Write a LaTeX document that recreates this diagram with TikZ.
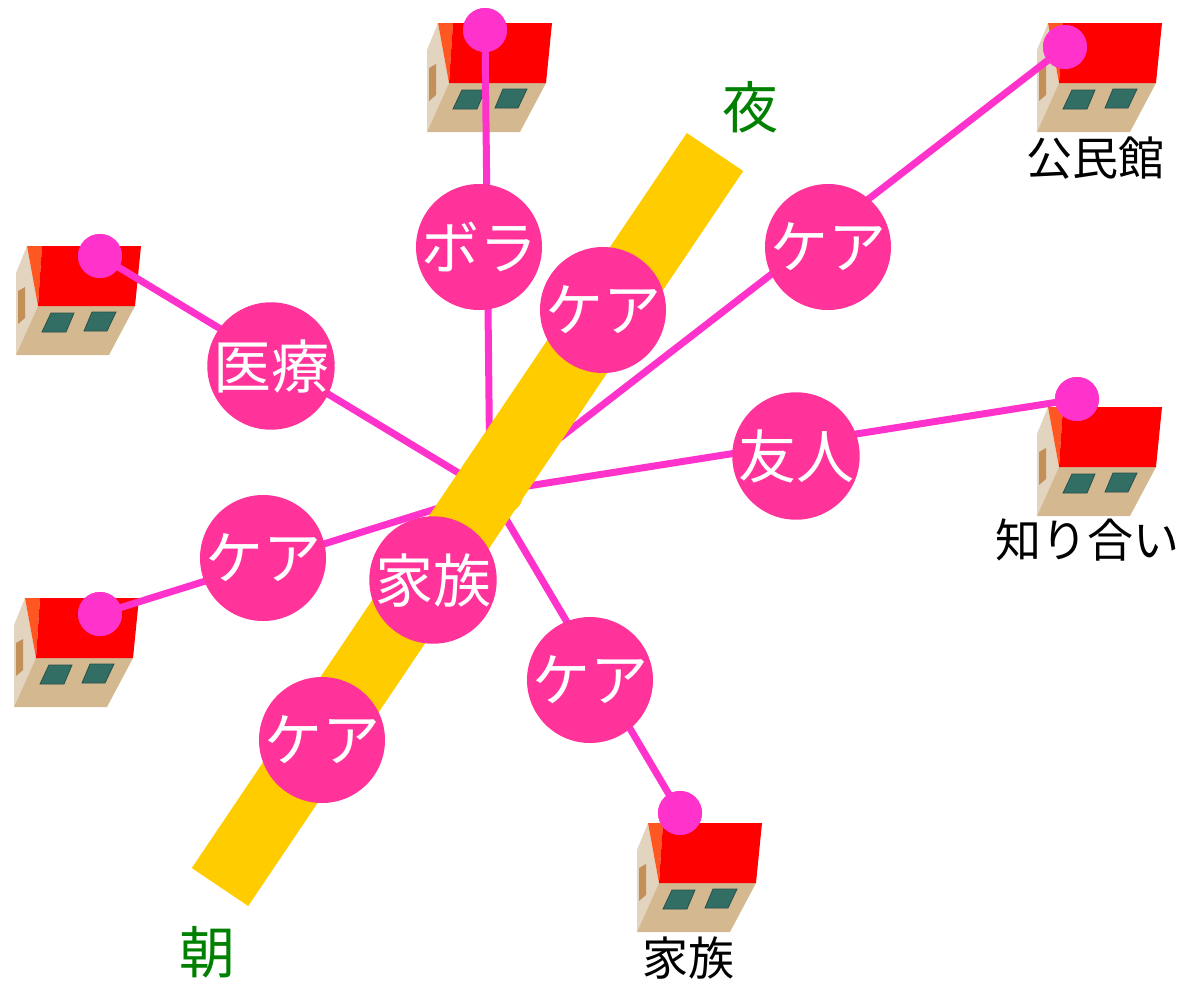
\documentclass[tikz,border=0pt]{standalone}
\usepackage{fontspec}
\newfontfamily\jpfont{Noto Sans CJK JP}
\definecolor{linkpink}{RGB}{255,51,204}
\definecolor{topicpink}{RGB}{255,51,153}
\definecolor{bandyellow}{RGB}{255,204,0}
\definecolor{timegreen}{RGB}{0,128,0}
\definecolor{roofred}{RGB}{255,0,0}
\definecolor{roofside}{RGB}{255,87,34}
\definecolor{wallfront}{RGB}{212,184,144}
\definecolor{wallside}{RGB}{226,212,190}
\definecolor{doorbrown}{RGB}{196,144,90}
\definecolor{windowteal}{RGB}{50,110,100}
\definecolor{windowedge}{RGB}{40,80,75}
\begin{document}
\begin{tikzpicture}[x=1pt,y=-1pt,
  link/.style={draw=linkpink, line width=7pt},
  topic/.style={circle, fill=topicpink, minimum size=126pt, inner sep=0pt,
    text=white, font=\jpfont\fontsize{58}{58}\selectfont},
  pin/.style={circle, fill=linkpink, minimum size=44pt, inner sep=0pt},
  place/.style={font=\jpfont\fontsize{46}{46}\selectfont, text=black, inner sep=0pt},
  timelabel/.style={font=\jpfont\fontsize{56}{56}\selectfont, text=timegreen, inner sep=0pt},
  house/.pic={
    \fill[wallside] (-26,27) -- (-15,0) -- (-4,60) -- (-26,109) -- cycle;
    \fill[wallfront] (-4,60) -- (93,60) -- (67,109) -- (-26,109) -- cycle;
    \fill[roofside] (-15,0) -- (0,0) -- (-4,60) -- cycle;
    \fill[roofred] (0,0) -- (99,0) -- (93,60) -- (-4,60) -- cycle;
    \fill[doorbrown] (-24,45) -- (-17,41) -- (-17,72) -- (-24,78) -- cycle;
    \filldraw[fill=windowteal, draw=windowedge, line width=0.8pt]
      (9,67) -- (32,67) -- (24,86) -- (0,86) -- cycle;
    \filldraw[fill=windowteal, draw=windowedge, line width=0.8pt]
      (50,66) -- (74,66) -- (65,85) -- (42,85) -- cycle;
  }]
\useasboundingbox (0,0) rectangle (1189,983);

% houses
\pic at (453,23) {house};
\pic at (1063,23) {house};
\pic at (42,246) {house};
\pic at (40,598) {house};
\pic at (1063,407) {house};
\pic at (663,823) {house};

% hub and pins
\coordinate (hub) at (490,492);
\node[pin] (pTop) at (485,30) {};
\node[pin] (pTR) at (1065,47) {};
\node[pin] (pL1) at (100,256) {};
\node[pin] (pL2) at (100,614) {};
\node[pin] (pR) at (1077,399) {};
\node[pin] (pB) at (680,813) {};

% links from the hub to every pin
\draw[link] (hub) -- (pTop.center);
\draw[link] (hub) -- (pTR.center);
\draw[link] (hub) -- (pL1.center);
\draw[link] (hub) -- (pL2.center);
\draw[link] (hub) -- (pR.center);
\draw[link] (hub) -- (pB.center);

% morning-to-night band
\coordinate (morning) at (220,887);
\coordinate (night) at (715,152);
\draw[bandyellow, line width=68pt] (morning) -- (night);
\fill[bandyellow] (503,494) circle (20);

% pins on top of links
\foreach \p in {pTop,pTR,pL1,pL2,pR,pB}
  \fill[linkpink] (\p) circle (22);

% topic circles
\node[topic] (vol) at (479,247) {ボラ};
\node[topic] (care1) at (603,310) {ケア};
\node[topic] (care2) at (828,247) {ケア};
\node[topic] (med) at (271,366) {医療};
\node[topic] (friend) at (796,456) {友人};
\node[topic] (care3) at (263,558) {ケア};
\node[topic] (fam) at (433,580) {家族};
\node[topic] (care4) at (590,680) {ケア};
\node[topic] (care5) at (322,740) {ケア};

% place labels
\node[place] (lHall) at (1095,158) {公民館};
\node[place] (lAcq) at (1087,540) {知り合い};
\node[place] (lFam) at (688,958) {家族};

% time labels
\node[timelabel] (tNight) at (750,107) {夜};
\node[timelabel] (tMorning) at (207,952) {朝};
\end{tikzpicture}
\end{document}
